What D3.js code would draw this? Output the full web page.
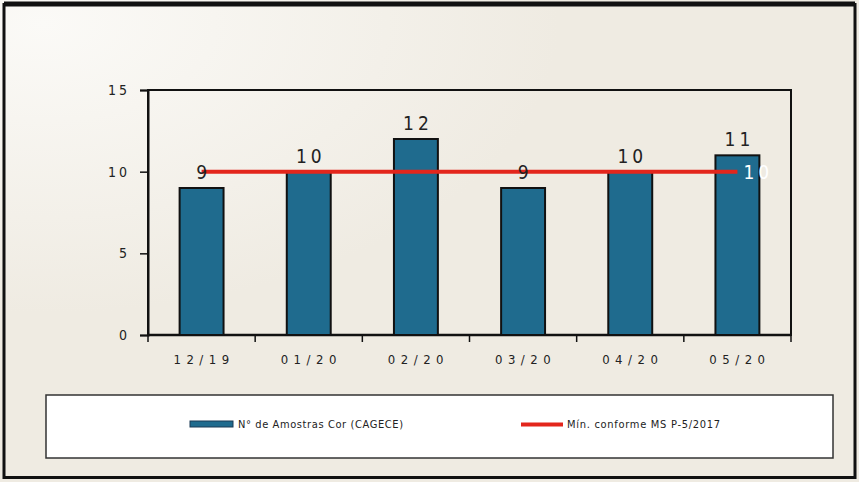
<!DOCTYPE html>
<html><head><meta charset="utf-8">
<script src="https://cdn.jsdelivr.net/npm/d3@7"></script>
<style>
html,body{margin:0;padding:0;background:#f1ede4;}
text{font-family:"Liberation Sans Narrow","Arial Narrow","DejaVu Sans Condensed",sans-serif;}
</style></head>
<body>
<svg id="c" width="859" height="482"></svg>
<script>
const categories = ["12/19","01/20","02/20","03/20","04/20","05/20"];
const amostras = [9,10,12,9,10,11];
const minimo = [10,10,10,10,10,10];
const yTicks = [0,5,10,15];
const seriesNames = ["N° de Amostras Cor (CAGECE)","Mín. conforme MS  P-5/2017"];

const svg = d3.select("#c");
const W=859,H=482;
const defs = svg.append("defs");
const g0 = defs.append("radialGradient").attr("id","bg").attr("cx","0.05").attr("cy","0.05").attr("r","0.6");
g0.append("stop").attr("offset","0").attr("stop-color","#fbfaf7");
g0.append("stop").attr("offset","1").attr("stop-color","#efebe2");
svg.append("rect").attr("x",0).attr("y",0).attr("width",W).attr("height",H).attr("fill","url(#bg)");
svg.append("rect").attr("x",4).attr("y",4.5).attr("width",851).attr("height",473)
  .attr("fill","none").attr("stroke","#111").attr("stroke-width",3);
svg.append("line").attr("x1",4).attr("x2",855).attr("y1",4).attr("y2",4).attr("stroke","#111").attr("stroke-width",5);

const m = {l:148, r:791, t:90, b:335};
const x = d3.scaleBand().domain(categories).range([m.l,m.r]).paddingInner(0.59).paddingOuter(0.295);
const xb = d3.scaleBand().domain(categories).range([m.l,m.r]);
const y = d3.scaleLinear().domain([0,15]).range([m.b,m.t]);

svg.append("rect").attr("x",m.l).attr("y",m.t).attr("width",m.r-m.l).attr("height",m.b-m.t)
  .attr("fill","none").attr("stroke","#111").attr("stroke-width",2);

const ya = svg.append("g").attr("transform",`translate(${m.l},0)`)
  .call(d3.axisLeft(y).tickValues(yTicks).tickSize(8).tickPadding(10));
ya.select(".domain").attr("stroke","#111").attr("stroke-width",2);
ya.selectAll(".tick line").attr("stroke","#111").attr("stroke-width",1.5);
ya.selectAll(".tick text").attr("font-size",14).attr("fill","#222").attr("letter-spacing","3px")
  .attr("dy","0.32em");

const xa = svg.append("g").attr("transform",`translate(0,${m.b})`)
  .call(d3.axisBottom(xb).tickSize(0).tickPadding(20));
xa.select(".domain").remove();
xa.selectAll(".tick text").attr("font-size",13).attr("fill","#222").attr("letter-spacing","5.5px")
  .attr("dx","2.5px");
const bounds = categories.map(c=>xb(c)).concat([m.r]);
svg.append("g").selectAll("line").data(bounds).join("line")
  .attr("x1",d=>d).attr("x2",d=>d).attr("y1",m.b).attr("y2",m.b+7)
  .attr("stroke","#111").attr("stroke-width",1.5);
svg.append("line").attr("x1",m.l).attr("x2",m.r).attr("y1",m.b).attr("y2",m.b).attr("stroke","#111").attr("stroke-width",2.5);

svg.append("g").selectAll("rect").data(amostras).join("rect")
  .attr("x",(d,i)=>x(categories[i])).attr("y",d=>y(d))
  .attr("width",x.bandwidth()).attr("height",d=>m.b-y(d))
  .attr("fill","#1f6b8e").attr("stroke","#111").attr("stroke-width",2);

const line = d3.line().x((d,i)=>xb(categories[i])+xb.bandwidth()/2).y(d=>y(d));
svg.append("path").datum(minimo).attr("d",line).attr("fill","none")
  .attr("stroke","#e3261c").attr("stroke-width",4);

svg.append("g").selectAll("text").data(amostras).join("text")
  .attr("x",(d,i)=>xb(categories[i])+xb.bandwidth()/2+2).attr("y",d=>y(d)-9)
  .attr("text-anchor","middle").attr("font-size",19).attr("fill","#222")
  .attr("letter-spacing","4px").text(d=>d);

const lastI = minimo.length-1;
svg.append("text").attr("x",xb(categories[lastI])+xb.bandwidth()/2+6).attr("y",y(minimo[lastI])+7)
  .attr("font-size",19).attr("fill","#ffffff").attr("letter-spacing","4px").text(minimo[lastI]);

svg.append("rect").attr("x",46).attr("y",395).attr("width",787).attr("height",63)
  .attr("fill","#ffffff").attr("stroke","#333").attr("stroke-width",1.5);
svg.append("rect").attr("x",190).attr("y",421).attr("width",43).attr("height",6)
  .attr("fill","#1f6b8e").attr("stroke","#1a3a55").attr("stroke-width",1);
svg.append("text").attr("x",238).attr("y",428).attr("font-size",11).attr("fill","#222")
  .attr("textLength",165).attr("lengthAdjust","spacing").text(seriesNames[0]);
svg.append("line").attr("x1",521).attr("x2",563).attr("y1",424.5).attr("y2",424.5)
  .attr("stroke","#e3261c").attr("stroke-width",4);
svg.append("text").attr("x",567).attr("y",428).attr("font-size",11).attr("fill","#222")
  .attr("textLength",153).attr("lengthAdjust","spacing").text(seriesNames[1]);
</script>
</body></html>
